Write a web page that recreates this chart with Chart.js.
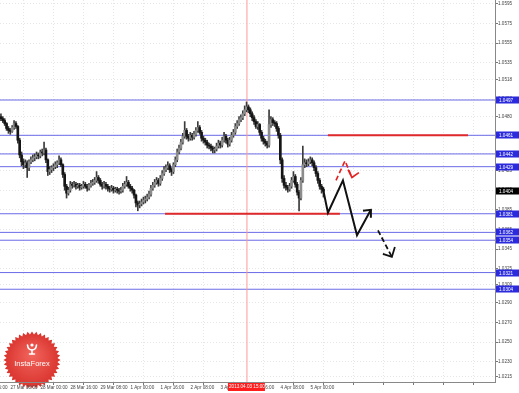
<!DOCTYPE html>
<html><head><meta charset="utf-8">
<script src="https://cdn.jsdelivr.net/npm/chart.js@4.4.1/dist/chart.umd.min.js"></script>
<style>html,body{margin:0;padding:0;background:#fff;overflow:hidden}canvas{display:block}</style>
</head><body>
<canvas id="c" width="519" height="393"></canvas>
<script>
// ---- H1 bars (EURUSD-like), index 0 = 27 Mar 04:00 ----
const opens = [
1.0480,1.0478,1.0476,1.0473,1.0468,1.0466,1.0465,1.0469,1.0473,1.0470,
1.0456,1.0441,1.0434,1.0431,1.0433,1.0428,1.0434,1.0436,1.0438,1.0439,
1.0441,1.0440,1.0444,1.0443,1.0446,1.0436,1.0424,1.0426,1.0428,1.0429,
1.0431,1.0433,1.0436,1.0431,1.0421,1.0409,1.0402,1.0405,1.0411,1.0410,
1.0411,1.0409,1.0410,1.0408,1.0409,1.0411,1.0409,1.0407,1.0410,1.0412,
1.0413,1.0415,1.0418,1.0415,1.0411,1.0409,1.0411,1.0409,1.0407,1.0406,
1.0407,1.0405,1.0406,1.0405,1.0404,1.0405,1.0409,1.0411,1.0413,1.0409,
1.0407,1.0405,1.0400,1.0392,1.0390,1.0391,1.0393,1.0395,1.0396,1.0398,
1.0401,1.0407,1.0410,1.0413,1.0415,1.0412,1.0417,1.0422,1.0426,1.0428,
1.0430,1.0426,1.0424,1.0431,1.0436,1.0444,1.0448,1.0454,1.0460,1.0466,
1.0460,1.0458,1.0461,1.0459,1.0462,1.0466,1.0469,1.0464,1.0458,1.0456,
1.0454,1.0451,1.0450,1.0448,1.0446,1.0447,1.0450,1.0453,1.0451,1.0456,
1.0460,1.0456,1.0452,1.0456,1.0461,1.0464,1.0470,1.0473,1.0477,1.0479,
1.0483,1.0487,1.0490,1.0487,1.0483,1.0479,1.0475,1.0470,1.0472,1.0464,
1.0458,1.0455,1.0453,1.0451,1.0472,1.0477,1.0474,1.0473,1.0468,1.0461,
1.0436,1.0417,1.0410,1.0408,1.0406,1.0409,1.0415,1.0419,1.0411,1.0403,
1.0397,1.0415,1.0431,1.0433,1.0432,1.0434,1.0436,1.0433,1.0428,1.0422,
1.0415,1.0409,1.0406];
const highs = [
1.0483,1.0480,1.0478,1.0474,1.0470,1.0468,1.0471,1.0476,1.0475,1.0471,
1.0458,1.0444,1.0437,1.0436,1.0435,1.0436,1.0439,1.0441,1.0442,1.0444,
1.0443,1.0446,1.0447,1.0454,1.0448,1.0437,1.0429,1.0430,1.0432,1.0434,
1.0435,1.0440,1.0438,1.0432,1.0423,1.0411,1.0408,1.0414,1.0413,1.0414,
1.0413,1.0412,1.0412,1.0411,1.0414,1.0413,1.0411,1.0412,1.0415,1.0416,
1.0418,1.0424,1.0420,1.0417,1.0413,1.0414,1.0413,1.0411,1.0409,1.0410,
1.0409,1.0408,1.0408,1.0407,1.0408,1.0412,1.0414,1.0419,1.0415,1.0411,
1.0409,1.0406,1.0401,1.0394,1.0394,1.0396,1.0398,1.0399,1.0401,1.0404,
1.0410,1.0413,1.0416,1.0418,1.0417,1.0420,1.0425,1.0429,1.0431,1.0434,
1.0432,1.0428,1.0433,1.0439,1.0447,1.0451,1.0457,1.0463,1.0475,1.0468,
1.0462,1.0464,1.0463,1.0465,1.0469,1.0475,1.0471,1.0466,1.0460,1.0458,
1.0456,1.0453,1.0452,1.0450,1.0449,1.0453,1.0456,1.0455,1.0459,1.0464,
1.0462,1.0458,1.0459,1.0464,1.0467,1.0473,1.0476,1.0480,1.0482,1.0486,
1.0491,1.0495,1.0492,1.0489,1.0485,1.0481,1.0477,1.0475,1.0473,1.0466,
1.0460,1.0457,1.0455,1.0487,1.0480,1.0479,1.0476,1.0475,1.0470,1.0463,
1.0438,1.0420,1.0413,1.0410,1.0412,1.0418,1.0424,1.0421,1.0413,1.0405,
1.0418,1.0450,1.0437,1.0436,1.0437,1.0439,1.0438,1.0435,1.0430,1.0424,
1.0417,1.0411,1.0408];
const lows = [
1.0476,1.0474,1.0471,1.0466,1.0463,1.0462,1.0464,1.0467,1.0468,1.0453,
1.0438,1.0430,1.0427,1.0428,1.0418,1.0425,1.0432,1.0434,1.0435,1.0437,
1.0437,1.0438,1.0440,1.0441,1.0433,1.0420,1.0421,1.0423,1.0425,1.0427,
1.0428,1.0431,1.0429,1.0418,1.0405,1.0397,1.0400,1.0403,1.0407,1.0408,
1.0406,1.0407,1.0405,1.0406,1.0407,1.0407,1.0404,1.0405,1.0408,1.0410,
1.0411,1.0413,1.0412,1.0409,1.0406,1.0407,1.0406,1.0404,1.0403,1.0404,
1.0402,1.0403,1.0402,1.0401,1.0402,1.0403,1.0407,1.0409,1.0407,1.0404,
1.0402,1.0397,1.0388,1.0384,1.0387,1.0389,1.0391,1.0392,1.0394,1.0396,
1.0399,1.0405,1.0408,1.0411,1.0409,1.0410,1.0415,1.0420,1.0424,1.0426,
1.0423,1.0420,1.0422,1.0429,1.0434,1.0442,1.0446,1.0452,1.0458,1.0457,
1.0455,1.0456,1.0456,1.0457,1.0460,1.0464,1.0462,1.0455,1.0453,1.0451,
1.0448,1.0447,1.0445,1.0443,1.0443,1.0445,1.0448,1.0448,1.0449,1.0454,
1.0453,1.0449,1.0450,1.0454,1.0459,1.0462,1.0468,1.0471,1.0475,1.0477,
1.0481,1.0485,1.0484,1.0480,1.0476,1.0472,1.0468,1.0467,1.0461,1.0455,
1.0452,1.0450,1.0448,1.0449,1.0469,1.0471,1.0470,1.0465,1.0458,1.0432,
1.0413,1.0407,1.0405,1.0403,1.0404,1.0407,1.0413,1.0408,1.0400,1.0384,
1.0395,1.0413,1.0428,1.0429,1.0430,1.0432,1.0430,1.0425,1.0419,1.0412,
1.0406,1.0402,1.0398];
const closes = [
1.0478,1.0476,1.0473,1.0468,1.0466,1.0465,1.0469,1.0473,1.0470,1.0456,
1.0441,1.0434,1.0431,1.0433,1.0428,1.0434,1.0436,1.0438,1.0439,1.0441,
1.0440,1.0444,1.0443,1.0446,1.0436,1.0424,1.0426,1.0428,1.0429,1.0431,
1.0433,1.0436,1.0431,1.0421,1.0409,1.0402,1.0405,1.0411,1.0410,1.0411,
1.0409,1.0410,1.0408,1.0409,1.0411,1.0409,1.0407,1.0410,1.0412,1.0413,
1.0415,1.0418,1.0415,1.0411,1.0409,1.0411,1.0409,1.0407,1.0406,1.0407,
1.0405,1.0406,1.0405,1.0404,1.0405,1.0409,1.0411,1.0413,1.0409,1.0407,
1.0405,1.0400,1.0392,1.0390,1.0391,1.0393,1.0395,1.0396,1.0398,1.0401,
1.0407,1.0410,1.0413,1.0415,1.0412,1.0417,1.0422,1.0426,1.0428,1.0430,
1.0426,1.0424,1.0431,1.0436,1.0444,1.0448,1.0454,1.0460,1.0466,1.0460,
1.0458,1.0461,1.0459,1.0462,1.0466,1.0469,1.0464,1.0458,1.0456,1.0454,
1.0451,1.0450,1.0448,1.0446,1.0447,1.0450,1.0453,1.0451,1.0456,1.0460,
1.0456,1.0452,1.0456,1.0461,1.0464,1.0470,1.0473,1.0477,1.0479,1.0483,
1.0487,1.0490,1.0487,1.0483,1.0479,1.0475,1.0470,1.0472,1.0464,1.0458,
1.0455,1.0453,1.0451,1.0472,1.0477,1.0474,1.0473,1.0468,1.0461,1.0436,
1.0417,1.0410,1.0408,1.0406,1.0409,1.0415,1.0419,1.0411,1.0403,1.0397,
1.0415,1.0431,1.0433,1.0432,1.0434,1.0436,1.0433,1.0428,1.0422,1.0415,
1.0409,1.0406,1.0404];

// ---- time axis ----
const timeTickIndex = [4,20,36,52,68,84,100,116,132,148,164,180,196,212,228,244,260];
const timeTickLabels = ['27 Mar 08:00','28 Mar 00:00','28 Mar 16:00','29 Mar 08:00','1 Apr 00:00','1 Apr 16:00','2 Apr 08:00','3 Apr 00:00','3 Apr 16:00','4 Apr 08:00','5 Apr 00:00','','','','','',''];
const partialTickIndex = -12, partialTickLabel = '26 Mar 16:00';
const markerIndex = 131.2, markerLabel = '2013.04.03 15:00';

// ---- price axis ----
const priceTicks = [1.0595,1.0575,1.0555,1.0535,1.0518,1.0498,1.0480,1.0461,1.0442,1.0425,1.0405,1.0385,1.0365,1.0345,1.0325,1.0309,1.0290,1.0270,1.0250,1.0230,1.0215];
const priceMin = 1.02094, priceMax = 1.0599;
const barMin = -0.5, barMax = 263.5;

// ---- levels & drawings ----
const blueLevels = [1.0497,1.0461,1.0442,1.0429,1.0381,1.0362,1.0354,1.0321,1.0304];
const redLevels = [1.0461,1.0381];
const redFrom = [174.4,87.5];
const redTo = [249.1,180.8];
const solidArrow = [[171.7,1.0407],[174.4,1.0382],[182.4,1.0415],[189.9,1.0359],[197.3,1.0385]];
const solidArrowHead = [[193.1,1.0384],[197.3,1.0385],[197.3,1.0377]];
const dashedArrow = [[201.1,1.0364],[208.5,1.0337]];
const dashedArrowHead = [[203.7,1.0340],[208.5,1.0337],[210.1,1.0347]];
const redArrow = [[178.7,1.0415],[183.5,1.0435],[187.2,1.0418]];
const redArrowHead = [[185.1,1.0426],[187.2,1.0418],[190.9,1.0423]];

const FONT = '"Liberation Sans", Arial, sans-serif';

function lineDS(pts, color, width, dash, order){
  return {type:'line', data: pts.map(p=>({x:p[0], y:p[1]})), borderColor: color, borderWidth: width,
    borderDash: dash || [], pointRadius: 0, pointHoverRadius: 0, fill: false, tension: 0, order: order,
    borderCapStyle: 'butt', borderJoinStyle: 'miter'};
}

const datasets = [];
blueLevels.forEach(v => datasets.push(lineDS([[barMin,v],[barMax,v]], '#6a6ae8', 1, null, 20)));
datasets.push(lineDS([[markerIndex,priceMin],[markerIndex,priceMax]], '#ff9a9a', 1, null, 19));
datasets.push({type:'bar', data: closes.map((c,i)=>({x:i, y:[lows[i], highs[i]]})), backgroundColor:'#3a3a3a',
  barThickness: 1, grouped:false, order: 11, borderWidth: 0});
datasets.push({type:'bar', data: closes.map((c,i)=>({x:i, y:[opens[i], c]})),
  backgroundColor: ctx => (closes[ctx.dataIndex] >= opens[ctx.dataIndex] ? '#8c8c8c' : '#151515'),
  barThickness: 2, grouped:false, order: 10, borderWidth: 0, minBarLength: 1});
redLevels.forEach((v,k) => datasets.push(lineDS([[redFrom[k],v],[redTo[k],v]], '#e02a2a', 2, null, 3)));
datasets.push(lineDS(solidArrow, '#111', 2, null, 1));
datasets.push(lineDS(solidArrowHead, '#111', 2, null, 1));
datasets.push(lineDS(dashedArrow, '#111', 1.8, [5,3], 1));
datasets.push(lineDS(dashedArrowHead, '#111', 1.8, null, 1));
datasets.push(lineDS(redArrow, '#e42020', 1.6, [5,3], 1));
datasets.push(lineDS(redArrowHead, '#e42020', 1.6, null, 1));

function drawLogo(ctx, cx, cy){
  ctx.save();
  ctx.beginPath();
  const n = 40, R = 28.5, r = 25.5;
  for (let k = 0; k < 2*n; k++){
    const a = k*Math.PI/n - Math.PI/2, rr = (k % 2) ? r : R;
    ctx.lineTo(cx + rr*Math.cos(a), cy + rr*Math.sin(a));
  }
  ctx.closePath();
  const g = ctx.createRadialGradient(cx, cy-6, 2, cx, cy, R);
  g.addColorStop(0, '#f0625a'); g.addColorStop(1, '#d9332d');
  ctx.fillStyle = g; ctx.fill();
  ctx.strokeStyle = '#fff'; ctx.fillStyle = '#fff'; ctx.lineWidth = 1.6; ctx.lineCap = 'round';
  ctx.beginPath(); ctx.arc(cx, cy-15, 1.6, 0, Math.PI*2); ctx.fill();
  ctx.beginPath(); ctx.moveTo(cx-4.5, cy-15); ctx.quadraticCurveTo(cx-4, cy-10, cx, cy-10); ctx.quadraticCurveTo(cx+4, cy-10, cx+4.5, cy-15); ctx.stroke();
  ctx.beginPath(); ctx.moveTo(cx, cy-10); ctx.lineTo(cx, cy-6.5); ctx.stroke();
  ctx.beginPath(); ctx.moveTo(cx-2.5, cy-6); ctx.lineTo(cx+2.5, cy-6); ctx.stroke();
  ctx.font = '7.5px ' + FONT; ctx.textAlign = 'center'; ctx.textBaseline = 'middle';
  ctx.fillText('InstaForex', cx, cy+4);
  ctx.restore();
}

const decor = {
  id: 'decor',
  beforeDatasetsDraw(chart){
    drawLogo(chart.ctx, 32, 360);
  },
  afterDraw(chart){
    const ctx = chart.ctx, ys = chart.scales.y, xs = chart.scales.x, a = chart.chartArea;
    ctx.save();
    ctx.font = '4.6px ' + FONT; ctx.textBaseline = 'middle'; ctx.textAlign = 'left';
    blueLevels.forEach(v => {
      const py = Math.round(ys.getPixelForValue(v));
      ctx.fillStyle = '#2b2bdd'; ctx.fillRect(a.right+1, py-3.5, 23, 7);
      ctx.fillStyle = '#fff'; ctx.fillText(v.toFixed(4), a.right+4, py+0.5);
    });
    const last = closes[closes.length-1];
    const pl = Math.round(ys.getPixelForValue(last));
    ctx.fillStyle = '#000'; ctx.fillRect(a.right+1, pl-3.5, 23, 7);
    ctx.fillStyle = '#fff'; ctx.fillText(last.toFixed(4), a.right+4, pl+0.5);
    const mx = xs.getPixelForValue(markerIndex);
    ctx.fillStyle = '#ff1d1d'; ctx.fillRect(mx-19, a.bottom+1, 37, 8);
    ctx.fillStyle = '#fff'; ctx.textAlign = 'center'; ctx.fillText(markerLabel, mx, a.bottom+5.2);
    ctx.fillStyle = '#444'; ctx.textAlign = 'left'; ctx.textBaseline = 'top';
    ctx.fillText(partialTickLabel, xs.getPixelForValue(partialTickIndex)+2, a.bottom+3);
    ctx.restore();
  }
};

new Chart(document.getElementById('c'), {
  type: 'bar',
  data: { datasets },
  plugins: [decor],
  options: {
    responsive: false, animation: false, devicePixelRatio: 1,
    layout: { padding: 0, autoPadding: false },
    plugins: { legend: {display:false}, tooltip: {enabled:false} },
    events: [],
    scales: {
      x: {
        type: 'linear', min: barMin, max: barMax, offset: false,
        afterBuildTicks: ax => { ax.ticks = timeTickIndex.map(v => ({value: v})); },
        afterFit: ax => { ax.height = 11; ax.paddingLeft = 0; ax.paddingRight = 0; },
        ticks: { autoSkip:false, maxRotation:0, minRotation:0, align:'start', padding:0, labelOffset: 2,
          color:'#444', font:{family: FONT, size:4.6}, z: 1,
          callback: v => { const k = timeTickIndex.indexOf(v); return k >= 0 ? timeTickLabels[k] : ''; } },
        grid: { color:'#e6e6e6', lineWidth:1, drawTicks:true, tickLength:3, tickColor:'#777', tickBorderDash: [] },
        border: { display:true, color:'#888', width:1, dash:[1,2], z: 1 }
      },
      y: {
        type: 'linear', position: 'right', min: priceMin, max: priceMax,
        afterBuildTicks: ax => { ax.ticks = priceTicks.map(v => ({value: v})); },
        afterFit: ax => { ax.width = 24; ax.paddingTop = 0; ax.paddingBottom = 0; },
        ticks: { autoSkip:false, padding:0, color:'#444', font:{family: FONT, size:4.6},
          callback: v => Number(v).toFixed(4) },
        grid: { color:'#e6e6e6', lineWidth:1, drawTicks:true, tickLength:3, tickColor:'#777', tickBorderDash: [] },
        border: { display:true, color:'#888', width:1, dash:[1,2] }
      }
    }
  }
});
</script>
</body></html>
